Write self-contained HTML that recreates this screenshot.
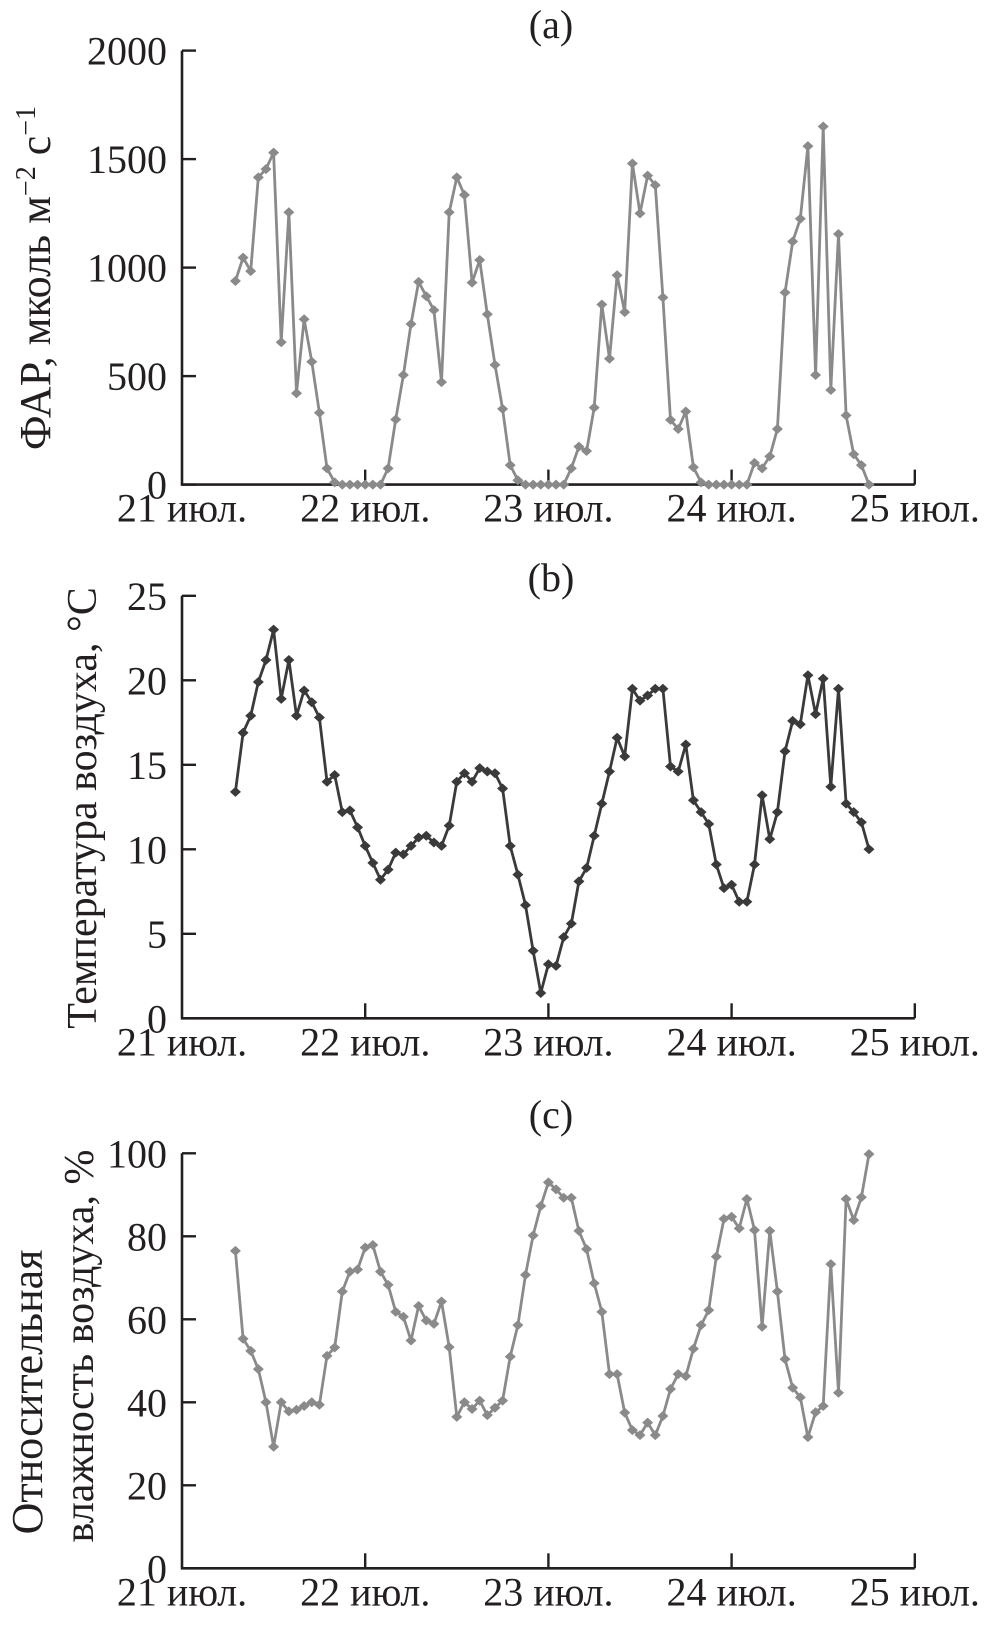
<!DOCTYPE html>
<html><head><meta charset="utf-8">
<style>
html,body{margin:0;padding:0;background:#fff;}
svg{display:block;}
text{font-family:"Liberation Serif",serif;fill:#231f20;}
</style></head>
<body>
<svg id="chart" width="987" height="1628" viewBox="0 0 987 1628" xmlns="http://www.w3.org/2000/svg">
<g id="root"></g>
</svg>
<script>
// Data: hourly values starting 21 July 07:00 (hour index 7) to hour 90
const startHour = 7;
const dayLabels = ["21 июл.", "22 июл.", "23 июл.", "24 июл.", "25 июл."];
const parTicks = [0, 500, 1000, 1500, 2000];
const tempTicks = [0, 5, 10, 15, 20, 25];
const humTicks = [0, 20, 40, 60, 80, 100];
const parValues = [938,1046,984,1416,1454,1530,656,1255,421,762,566,331,75,
  10,0,0,0,0,0,0,
  75,300,505,740,934,868,804,472,1255,1416,1335,931,1035,785,552,349,90,20,
  0,0,0,0,0,0,
  75,175,155,355,830,580,965,795,1480,1250,1424,1380,862,298,256,337,80,10,
  0,0,0,0,0,0,
  100,75,130,256,885,1120,1225,1560,505,1650,436,1155,319,140,90,0];
const tempValues = [13.4,16.9,17.9,19.9,21.2,23.0,18.9,21.2,17.9,19.4,18.7,17.8,14.0,14.4,12.2,12.3,11.3,10.2,9.2,8.2,8.8,9.8,9.7,10.2,10.7,10.8,10.4,10.2,11.4,14.0,14.5,14.0,14.8,14.6,14.5,13.6,10.2,8.5,6.7,4.0,
  1.5,3.2,3.1,4.8,5.6,8.1,8.9,10.8,12.7,
  14.6,16.6,15.5,19.5,18.8,19.1,19.5,19.5,14.9,14.6,16.2,12.9,12.2,11.5,9.1,7.7,7.9,6.9,6.9,
  9.1,13.2,10.6,12.2,15.8,17.6,17.4,20.3,18.0,20.1,13.7,19.5,12.7,12.2,11.6,10.0];
const humValues = [76.5,55.3,52.4,48.0,40.0,29.3,40.0,37.8,38.2,39.1,40.0,39.4,51.2,53.2,66.7,71.5,72.0,77.3,77.9,71.5,68.3,61.8,60.6,54.9,63.2,59.7,58.9,64.3,53.3,36.5,40.0,38.4,40.4,36.9,38.7,40.4,51.0,58.6,70.7,80.2,
  87.3,93.0,91.3,89.3,89.3,81.3,76.9,68.7,61.8,46.8,46.8,37.5,33.3,32.1,35.1,32.1,36.7,43.2,46.8,46.3,
  52.9,58.6,62.2,75.1,84.2,84.7,81.9,89.0,81.5,58.2,81.3,66.7,50.4,43.5,41.2,31.6,37.6,39.1,73.3,42.3,
  89.0,83.9,89.4,99.8];

const NS = "http://www.w3.org/2000/svg";
const root = document.getElementById("root");
const X0 = 182, DAYW = 183.2;
function xScale(h){ return X0 + h * DAYW / 24; }
function mk(tag, attrs, parent){
  const e = document.createElementNS(NS, tag);
  for (const k in attrs) e.setAttribute(k, attrs[k]);
  (parent || root).appendChild(e);
  return e;
}
const AX = "#231f20";

function panel(cfg){
  const g = mk("g", {});
  
  
  const yS = v => cfg.y0 - (v - cfg.vmin) / (cfg.vmax - cfg.vmin) * (cfg.y0 - cfg.y1);
  const ya = mk("line", {x1:X0, y1:cfg.y1, x2:X0, y2:cfg.y0+1, stroke:AX, "stroke-width":2.6}, g);
  
  
  const xa = mk("line", {x1:X0-1, y1:cfg.y0, x2:xScale(96), y2:cfg.y0, stroke:AX, "stroke-width":2.6}, g);
  
  
  cfg.ticks.forEach(t => {
    const y = yS(t);
    const tk = mk("line", {x1:X0, y1:y, x2:X0+14, y2:y, stroke:AX, "stroke-width":2.4}, g);
    
    
    const tl = mk("text", {x:167, y:y+14, "font-size":40, "text-anchor":"end"}, g);
    tl.textContent = String(t);
    
    
  });
  dayLabels.forEach((d, i) => {
    const x = xScale(i * 24);
    if (i > 0) {
      const tk = mk("line", {x1:x, y1:cfg.y0, x2:x, y2:cfg.y0-15, stroke:AX, "stroke-width":2.4}, g);
      
      
    }
    const tl = mk("text", {x:x, y:cfg.y0+37, "font-size":40, "text-anchor":"middle"}, g);
    tl.textContent = d;
    
    
  });
  let dstr = "";
  cfg.values.forEach((v, i) => {
    dstr += (i ? "L" : "M") + xScale(startHour + i).toFixed(1) + "," + yS(v).toFixed(1);
  });
  const ln = mk("path", {d:dstr, fill:"none", stroke:cfg.color, "stroke-width":2.8, "stroke-linejoin":"round"}, g);
  
  
  cfg.values.forEach((v, i) => {
    const x = xScale(startHour + i), y = yS(v);
    const m = mk("path", {d:`M${x-5.5},${y}L${x},${y-5}L${x+5.5},${y}L${x},${y+5}Z`, fill:cfg.color}, g);
    
    
  });
  const tt = mk("text", {x:551, y:cfg.titleY, "font-size":40, "text-anchor":"middle"}, g);
  tt.textContent = cfg.title;
  
  
  return g;
}

panel({name:"panel-a-par", y0:484.6, y1:50.6, vmin:0, vmax:2000, ticks:parTicks, values:parValues, color:"#8a8a8a", seriesName:"par-series-line", title:"(a)", titleY:38});
panel({name:"panel-b-temperature", y0:1018.3, y1:595.8, vmin:0, vmax:25, ticks:tempTicks, values:tempValues, color:"#3a3a3a", seriesName:"temperature-series-line", title:"(b)", titleY:591});
panel({name:"panel-c-humidity", y0:1568.3, y1:1153.3, vmin:0, vmax:100, ticks:humTicks, values:humValues, color:"#8a8a8a", seriesName:"humidity-series-line", title:"(c)", titleY:1128});

function ytitle(txt, x, yc, size, name){
  const t = mk("text", {x:0, y:0, "font-size":size, "text-anchor":"middle", transform:`translate(${x},${yc}) rotate(-90)`});
  t.innerHTML = txt;
  
  
}
ytitle('ФАР, мколь м<tspan baseline-shift="super" font-size="28">−2</tspan> с<tspan baseline-shift="super" font-size="28">−1</tspan>', 50, 278, 44, 'y-axis-title-par');
ytitle('Температура воздуха, °C', 96, 808, 42, 'y-axis-title-temperature');
ytitle('Относительная', 42, 1392, 44, 'y-axis-title-humidity-line1');
ytitle('влажность воздуха, %', 93, 1346, 42, 'y-axis-title-humidity-line2');
</script>
</body></html>
